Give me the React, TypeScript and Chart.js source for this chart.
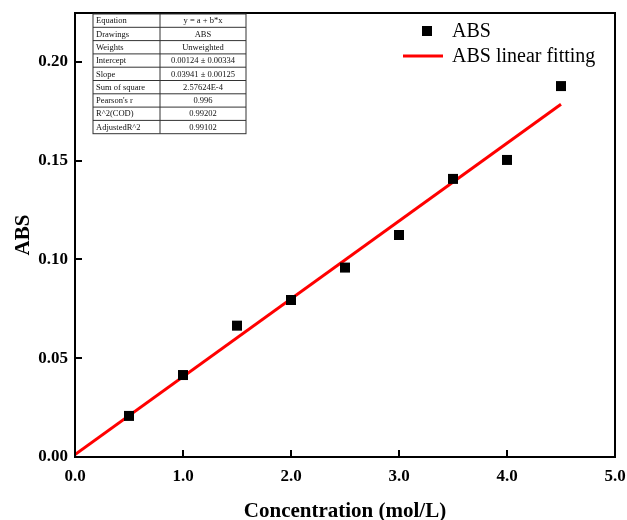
import React, { useEffect, useRef } from "react";
import { Chart, registerables } from "chart.js";

Chart.register(...registerables);

const concentration = [0.5, 1.0, 1.5, 2.0, 2.5, 3.0, 3.5, 4.0, 4.5];
const absValues = [0.0208, 0.0415, 0.0665, 0.0795, 0.0959, 0.1124, 0.1408, 0.1504, 0.1878];
const fitX = [0, 4.5];
const fitY = [0.00124, 0.17859];
const xTicks = [0, 1, 2, 3, 4, 5];
const yTicks = [0, 0.05, 0.1, 0.15, 0.2];

const tableRows: [string, string][] = [
  ["Equation", "y = a + b*x"],
  ["Drawings", "ABS"],
  ["Weights", "Unweighted"],
  ["Intercept", "0.00124 \u00b1 0.00334"],
  ["Slope", "0.03941 \u00b1 0.00125"],
  ["Sum of square", "2.57624E-4"],
  ["Pearson's r", "0.996"],
  ["R^2(COD)", "0.99202"],
  ["AdjustedR^2", "0.99102"],
];

const SERIF = "'Liberation Serif', 'Times New Roman', serif";

const framePlugin = {
  id: "frameTicksLegendTable",
  afterDraw(chart: any) {
    const ctx = chart.ctx;
    const { left, right, top, bottom } = chart.chartArea;
    const xs = chart.scales.x;
    const ys = chart.scales.y;
    ctx.save();
    // ticks (inside)
    ctx.strokeStyle = "#000";
    ctx.lineWidth = 2;
    ctx.beginPath();
    xTicks.forEach((v) => {
      const px = Math.round(xs.getPixelForValue(v));
      ctx.moveTo(px, bottom);
      ctx.lineTo(px, bottom - 7);
    });
    yTicks.forEach((v) => {
      const py = Math.round(ys.getPixelForValue(v));
      ctx.moveTo(left, py);
      ctx.lineTo(left + 7, py);
    });
    ctx.stroke();
    // frame
    ctx.lineWidth = 2;
    ctx.strokeRect(left, top, right - left, bottom - top);

    // legend
    ctx.fillStyle = "#000";
    ctx.fillRect(422, 26, 10, 10);
    ctx.strokeStyle = "#ff0000";
    ctx.lineWidth = 3;
    ctx.beginPath();
    ctx.moveTo(403, 56);
    ctx.lineTo(443, 56);
    ctx.stroke();
    ctx.fillStyle = "#000";
    ctx.font = `20px ${SERIF}`;
    ctx.textAlign = "left";
    ctx.textBaseline = "middle";
    ctx.fillText("ABS", 452, 32);
    ctx.fillText("ABS linear fitting", 452, 57);

    // table
    const tx0 = 93, tx1 = 160, tx2 = 246;
    const ty0 = 14, rowH = 13.3;
    ctx.strokeStyle = "#333";
    ctx.lineWidth = 1;
    ctx.strokeRect(tx0, ty0, tx2 - tx0, rowH * tableRows.length);
    ctx.beginPath();
    ctx.moveTo(tx1, ty0);
    ctx.lineTo(tx1, ty0 + rowH * tableRows.length);
    for (let i = 1; i < tableRows.length; i++) {
      ctx.moveTo(tx0, ty0 + rowH * i);
      ctx.lineTo(tx2, ty0 + rowH * i);
    }
    ctx.stroke();
    ctx.font = `8.5px ${SERIF}`;
    ctx.fillStyle = "#111";
    tableRows.forEach((r, i) => {
      const cy = ty0 + rowH * i + rowH / 2 + 0.5;
      ctx.textAlign = "left";
      ctx.fillText(r[0], tx0 + 3, cy);
      ctx.textAlign = "center";
      ctx.fillText(r[1], (tx1 + tx2) / 2, cy);
    });
    ctx.restore();
  },
};

export default function App() {
  const ref = useRef<HTMLCanvasElement | null>(null);
  useEffect(() => {
    if (!ref.current) return;
    const chart = new Chart(ref.current, {
      type: "scatter",
      data: {
        datasets: [
          {
            label: "ABS linear fitting",
            type: "line",
            data: fitX.map((x, i) => ({ x, y: fitY[i] })),
            borderColor: "#ff0000",
            borderWidth: 3,
            pointRadius: 0,
            fill: false,
            order: 2,
          },
          {
            label: "ABS",
            data: concentration.map((x, i) => ({ x, y: absValues[i] })),
            backgroundColor: "#000",
            borderColor: "#000",
            borderWidth: 0,
            pointStyle: "rect",
            pointRadius: 7.07,
            order: 1,
          },
        ],
      },
      plugins: [framePlugin],
      options: {
        responsive: false,
        animation: false,
        layout: { padding: { top: 13, right: 12, left: 0, bottom: 0 } },
        plugins: { legend: { display: false }, tooltip: { enabled: false } },
        scales: {
          x: {
            type: "linear",
            min: 0,
            max: 5,
            afterBuildTicks: (s: any) => {
              s.ticks = xTicks.map((v) => ({ value: v }));
            },
            afterFit: (s: any) => {
              s.height = 63;
              s.paddingLeft = 0;
              s.paddingRight = 0;
            },
            grid: { display: false, drawTicks: false },
            border: { display: false },
            ticks: {
              color: "#000",
              padding: 9,
              font: { family: SERIF, size: 17, weight: "bold" },
              callback: (v: any) => Number(v).toFixed(1),
            },
            title: {
              display: true,
              text: "Concentration (mol/L)",
              color: "#000",
              padding: { top: 0, bottom: -4 },
              font: { family: SERIF, size: 21, weight: "bold" },
            },
          },
          y: {
            type: "linear",
            min: 0,
            max: 0.2248,
            afterBuildTicks: (s: any) => {
              s.ticks = yTicks.map((v) => ({ value: v }));
            },
            afterFit: (s: any) => {
              s.width = 75;
              s.paddingTop = 0;
              s.paddingBottom = 0;
            },
            grid: { display: false, drawTicks: false },
            border: { display: false },
            ticks: {
              color: "#000",
              padding: 7,
              font: { family: SERIF, size: 17, weight: "bold" },
              callback: (v: any) => Number(v).toFixed(2),
            },
            title: {
              display: true,
              text: "ABS",
              color: "#000",
              padding: { top: 11, bottom: 4 },
              font: { family: SERIF, size: 21, weight: "bold" },
            },
          },
        },
      },
    } as any);
    return () => chart.destroy();
  }, []);
  return (
    <div style={{ position: "fixed", left: 0, top: 0, width: 627, height: 520, background: "#fff" }}>
      <canvas ref={ref} width={627} height={520} style={{ width: 627, height: 520, display: "block" }} />
    </div>
  );
}
